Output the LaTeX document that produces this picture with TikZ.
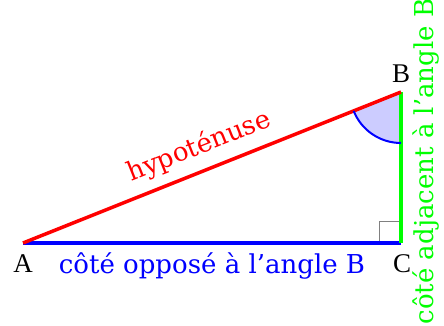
\documentclass[tikz,border=0pt]{standalone}
\usepackage{fontspec}
\setmainfont{DejaVu Serif}
\newfontfamily\vtxfont{Liberation Serif}
\begin{document}
\begin{tikzpicture}[x=1pt,y=1pt,
  side/.style={line width=3.5pt},
  lbl/.style={font=\fontsize{26}{30}\selectfont, inner sep=0pt},
  vlbl/.style={font=\vtxfont\fontsize{27}{32}\selectfont, inner sep=0pt, text=black}]
\definecolor{pureblue}{RGB}{0,0,255}
\definecolor{purered}{RGB}{255,0,0}
\definecolor{puregreen}{RGB}{0,255,0}
\definecolor{lightwedge}{RGB}{204,204,255}
\useasboundingbox (0,0) rectangle (444,325);
\coordinate (A) at (23,82);
\coordinate (C) at (401,82);
\coordinate (B) at (401,233);
% angle wedge
\fill[lightwedge] (B) -- ++(201.77:51) arc[start angle=201.77, end angle=270, radius=51] -- cycle;
% right angle
\draw[gray, line width=1pt] ([xshift=-22pt]C) |- ([yshift=22pt]C);
% sides
\draw[side, pureblue] (A) -- (C);
\node[lbl, text=pureblue, anchor=base] (opp) at (212,52) {côté opposé à l’angle B};
\draw[side, puregreen] (C) -- (B);
\draw[side, purered] (A) -- (B)
  node[lbl, text=purered, pos=0.49, sloped, above=9pt] (hyp) {hypoténuse};
\draw[pureblue, line width=2pt] (B) ++(201.77:51) arc[start angle=201.77, end angle=270, radius=51];
% vertical label
\node[lbl, text=puregreen, rotate=90] (adj) at (425.5,163.5) {côté adjacent à l’angle B};
% vertex labels
\node[vlbl] (la) at (23,61) {A};
\node[vlbl] (lb) at (401,251) {B};
\node[vlbl] (lc) at (402,61) {C};
\end{tikzpicture}
\end{document}
